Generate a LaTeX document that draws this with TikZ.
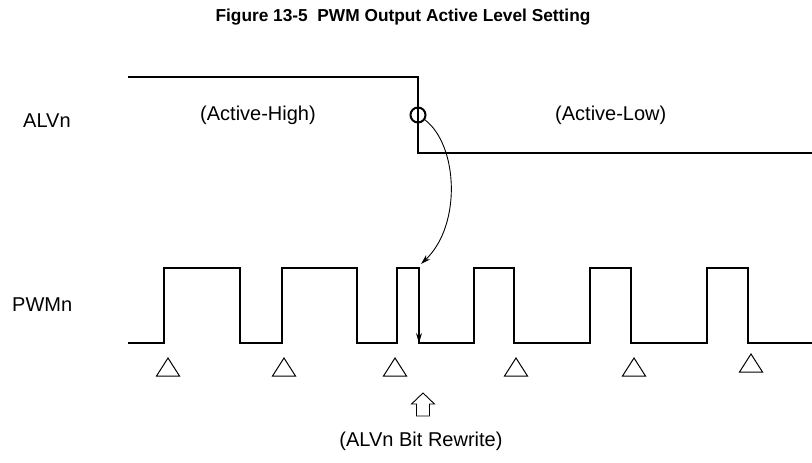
\documentclass[tikz,border=0pt]{standalone}
\usepackage{fontspec}
\setmainfont{Liberation Sans}
\usetikzlibrary{arrows.meta}
\begin{document}
\begin{tikzpicture}[x=1pt,y=-1pt,
  lbl/.style={inner sep=0pt,font=\fontsize{20}{24}\selectfont},
  wave/.style={line width=2.4pt,line join=miter},
  thin/.style={line width=0.9pt},
  tri/.style={line width=1pt,line join=miter}]
\useasboundingbox (0,0) rectangle (812,463);
% title
\node[inner sep=0pt,font=\bfseries\fontsize{17.3}{20}\selectfont] (title) at (403,17) {Figure 13-5\ \ PWM Output Active Level Setting};
% labels
\node[lbl,anchor=west] (alv) at (23,121) {ALVn};
\node[lbl,anchor=west] (pwm) at (12,305) {PWMn};
\node[lbl,anchor=west] (ah) at (200,115) {(Active-High)};
\node[lbl,anchor=west] (al) at (555,115) {(Active-Low)};
\node[lbl] (rw) at (421,441) {(ALVn Bit Rewrite)};
% ALVn waveform
\draw[wave] (128,77) -- (418,77) -- (418,153) -- (812,153);
\node[circle,draw,line width=2pt,minimum size=15pt,inner sep=0pt] (c) at (418,115) {};
% curved arrow
\coordinate (tip) at (421,264);
\draw[thin,-{Stealth[length=10pt,width=6pt]}] (c.-35) .. controls (458,145) and (462,225) .. (tip);
% PWM waveform
\draw[wave] (128,343) -- (164,343) -- (164,268) -- (240,268) -- (240,343)
  -- (282,343) -- (282,268) -- (357,268) -- (357,343)
  -- (397,343) -- (397,268) -- (419,268) -- (419,343)
  -- (474,343) -- (474,268) -- (514,268) -- (514,343)
  -- (590,343) -- (590,268) -- (631,268) -- (631,343)
  -- (707,343) -- (707,268) -- (748,268) -- (748,343) -- (812,343);
\coordinate (fa) at (419,318);
\coordinate (fb) at (419,343);
\draw[thin,-{Stealth[length=10pt,width=6pt]}] (fa) -- (fb);
% triangles
\foreach \cx/\ty in {168/358,284/358,395/358,516/358,634/358,751/354}{
  \draw[tri] (\cx,\ty) -- (\cx+11.5,\ty+18) -- (\cx-11.5,\ty+18) -- cycle;
}
% hollow up arrow
\draw[thin,line join=miter] (423,393) -- (434.5,404) -- (429.5,404) -- (429.5,416)
  -- (416.5,416) -- (416.5,404) -- (411.5,404) -- cycle;
\end{tikzpicture}
\end{document}
